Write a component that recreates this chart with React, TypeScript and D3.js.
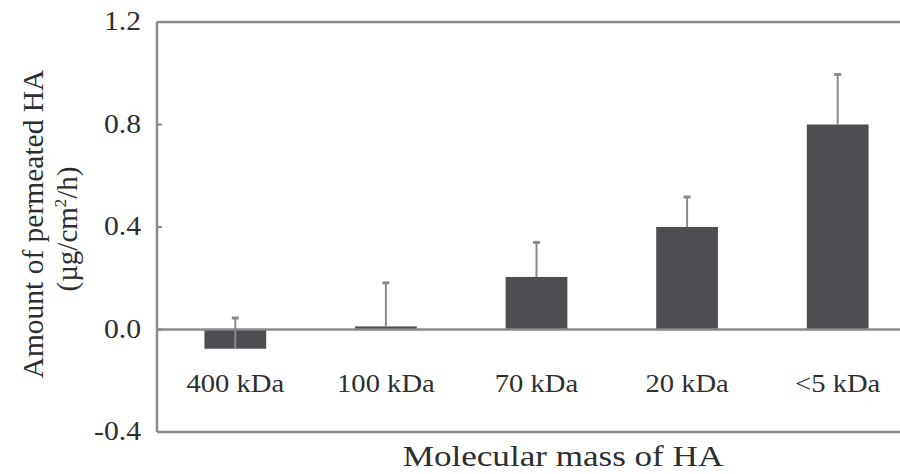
import React from 'react'
import * as d3 from 'd3'

const WIDTH = 900
const HEIGHT = 474
const LEFT = 157
const TOP = 22
const BOTTOM = 432

const categories = ['400 kDa', '100 kDa', '70 kDa', '20 kDa', '<5 kDa']
const values = [-0.075, 0.012, 0.205, 0.4, 0.8]
const errors = [0.12, 0.17, 0.135, 0.117, 0.195]
const yTicks = [-0.4, 0.0, 0.4, 0.8, 1.2]

const LINE = '#8a8a8a'
const BAR = '#4d4d52'
const TEXT = '#2e2e2e'
const FONT = '"Liberation Serif", "Times New Roman", serif'
// the source image is a little stretched sideways
const SX = 1.1

export default function App() {
  const x = d3.scaleBand<string>()
    .domain(categories)
    .range([LEFT, 916])
    .paddingInner(0.59)
    .paddingOuter(0.315)

  const y = d3.scaleLinear()
    .domain([-0.4, 1.2])
    .range([BOTTOM, TOP])

  const fmt = (v: number) => d3.format('.1f')(v).replace('\u2212', '-')
  const bw = x.bandwidth()

  return (
    <svg width={WIDTH} height={HEIGHT}
      style={{ position: 'absolute', left: 0, top: 0, background: '#fff' }}
      fontFamily={FONT}>
      {/* frame */}
      <line x1={LEFT} x2={WIDTH + 10} y1={y(1.2)} y2={y(1.2)} stroke={LINE} strokeWidth={2.5} />
      <line x1={LEFT} x2={WIDTH + 10} y1={y(-0.4)} y2={y(-0.4)} stroke={LINE} strokeWidth={2.5} />
      <line x1={LEFT} x2={LEFT} y1={y(1.2)} y2={y(-0.4)} stroke={LINE} strokeWidth={2.5} />

      {/* bars */}
      {categories.map((c, i) => {
        const v = values[i]
        return (
          <rect key={c} x={x(c)} width={bw}
            y={y(Math.max(0, v))} height={Math.abs(y(v) - y(0))}
            fill={BAR} />
        )
      })}

      {/* zero line */}
      <line x1={LEFT} x2={WIDTH + 10} y1={y(0)} y2={y(0)} stroke={LINE} strokeWidth={2.5} />

      {/* error bars */}
      {categories.map((c, i) => {
        const cx = (x(c) ?? 0) + bw / 2
        const top = y(values[i] + errors[i])
        return (
          <g key={c} stroke={LINE} strokeWidth={2}>
            <line x1={cx} x2={cx} y1={y(values[i])} y2={top} />
            <line x1={cx - 3.5} x2={cx + 3.5} y1={top} y2={top} strokeWidth={3} />
          </g>
        )
      })}

      {/* y ticks */}
      {yTicks.map(t => (
        <g key={t}>
          <line x1={LEFT} x2={LEFT + 5} y1={y(t)} y2={y(t)} stroke={LINE} strokeWidth={2} />
          <g transform={`translate(141, ${y(t)}) scale(${SX}, 1)`}>
            <text dy="0.3em" textAnchor="end" fontSize={27} fill={TEXT}>{fmt(t)}</text>
          </g>
        </g>
      ))}

      {/* category labels */}
      {categories.map(c => (
        <g key={c} transform={`translate(${(x(c) ?? 0) + bw / 2}, 392) scale(${SX}, 1)`}>
          <text textAnchor="middle" fontSize={26} fill={TEXT}>{c}</text>
        </g>
      ))}

      {/* axis titles */}
      <g transform="translate(563, 466) scale(1.17, 1)">
        <text textAnchor="middle" fontSize={30} fill={TEXT}>Molecular mass of HA</text>
      </g>
      <g transform="translate(43, 224) rotate(-90)">
        <text x={0} y={0} textAnchor="middle" fontSize={29.5} fill={TEXT}>Amount of permeated HA</text>
      </g>
      <g transform="translate(77, 229) rotate(-90)">
        <text x={0} y={0} textAnchor="middle" fontSize={29} fill={TEXT}>
          (µg/cm<tspan dy={-11} fontSize={17}>2</tspan><tspan dy={11}>/h)</tspan>
        </text>
      </g>
    </svg>
  )
}
